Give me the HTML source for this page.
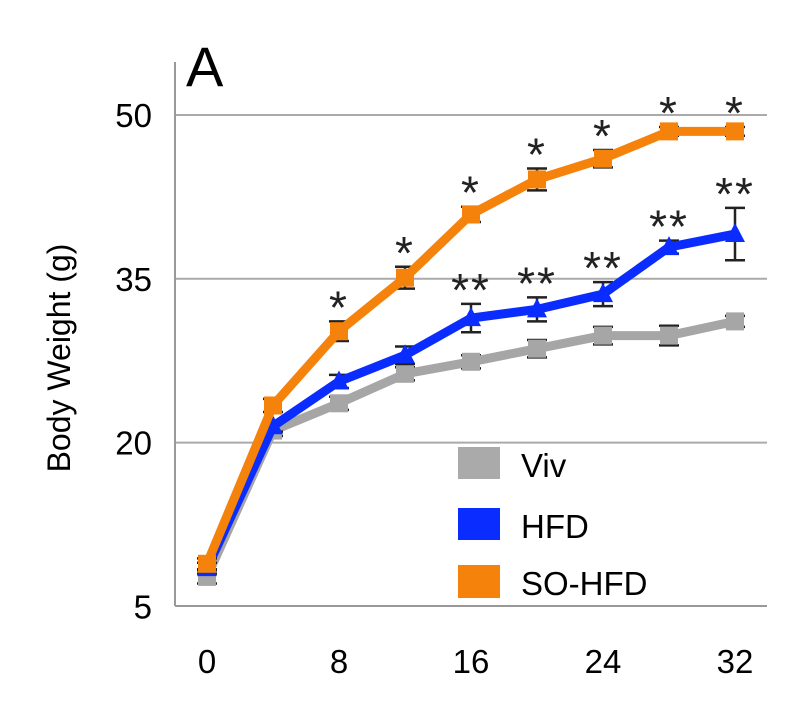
<!DOCTYPE html>
<html><head><meta charset="utf-8"><style>
body{margin:0;background:#fff;}
svg text{font-family:"Liberation Sans",Arial,sans-serif;}
</style></head><body>
<svg id="chart" width="794" height="704" xmlns="http://www.w3.org/2000/svg">
<rect width="794" height="704" fill="#fff"/>
<g id="grid"></g>
<g id="series"></g>
<g id="stars"></g>
<line x1="175" y1="62" x2="175" y2="606" stroke="#999" stroke-width="2"/>
<line x1="175" y1="606" x2="767" y2="606" stroke="#999" stroke-width="2"/>
<text x="186" y="86" font-size="56">A</text>
<text transform="translate(70,358) rotate(-90)" text-anchor="middle" font-size="32">Body Weight (g)</text>
<g>
<rect x="458" y="447" width="42" height="32" fill="#aaaaaa"/>
<text x="521" y="477" font-size="33">Viv</text>
<rect x="458" y="508" width="42" height="32" fill="#0a2cff"/>
<text x="521" y="538" font-size="33">HFD</text>
<rect x="458" y="565" width="42" height="33" fill="#f5820a"/>
<text x="521" y="595" font-size="33">SO-HFD</text>
</g>
</svg>
<script>
const weeks=[0,4,8,12,16,20,24,28,32];
const viv=[7.7,21.1,23.6,26.3,27.4,28.6,29.8,29.8,31.1];
const vivErr=[0.6,0.5,0.6,0.6,0.6,0.8,0.8,0.9,0.5];
const hfd=[8.5,21.5,25.6,28.0,31.4,32.2,33.6,37.9,39.1];
const hfdErr=[0.5,0.5,0.6,0.8,1.3,1.1,1.1,0.6,2.4];
const sohfd=[8.9,23.4,30.2,35.1,40.9,44.1,46.0,48.5,48.5];
const sohfdErr=[0.5,0.6,0.9,1.0,0.7,1.0,0.8,0.4,0.4];
const yTicks=[5,20,35,50];
const xTicks=[0,8,16,24,32];
const starsOrange=["","","*","*","*","*","*","*","*"];
const starsBlue=["","","","","**","**","**","**","**"];
const NS="http://www.w3.org/2000/svg";
const X=w=>207+w*16.5;
const Y=v=>115+(50-v)*10.92;
function mk(tag,attrs,parent){const e=document.createElementNS(NS,tag);for(const k in attrs)e.setAttribute(k,attrs[k]);parent.appendChild(e);return e;}
const grid=document.getElementById('grid');
yTicks.forEach(t=>{
  if(t>5){const l=mk('line',{x1:175,x2:767,y1:Y(t),y2:Y(t),stroke:'#aaa','stroke-width':2},grid);
  
  }
  const tx=mk('text',{x:152,y:Y(t)+12,'text-anchor':'end','font-size':33},grid);tx.textContent=t;
  
  
});
xTicks.forEach(t=>{
  const tx=mk('text',{x:X(t),y:673,'text-anchor':'middle','font-size':33},grid);tx.textContent=t;
  
  
});
const sg=document.getElementById('series');
function drawSeries(name,vals,errs,color,marker){
  const g=mk('g',{},sg);
  
  
  vals.forEach((v,i)=>{
    const x=X(weeks[i]),y1=Y(v+errs[i]),y2=Y(v-errs[i]);
    mk('path',{d:`M${x-10},${y1}H${x+10}M${x},${y1}V${y2}M${x-10},${y2}H${x+10}`,stroke:'#222','stroke-width':2.5,fill:'none'},g);
  });
  const pl=mk('polyline',{points:vals.map((v,i)=>X(weeks[i])+','+Y(v)).join(' '),fill:'none',stroke:color,'stroke-width':9,'stroke-linejoin':'round'},g);
  
  
  vals.forEach((v,i)=>{
    const x=X(weeks[i]),y=Y(v);let m;
    if(marker==='tri')m=mk('polygon',{points:`${x},${y-11} ${x+10},${y+8} ${x-10},${y+8}`,fill:color},g);
    else m=mk('rect',{x:x-9,y:y-9,width:18,height:18,fill:color},g);
    
    
  });
}
drawSeries('viv',viv,vivErr,'#a6a6a6','sq');
drawSeries('hfd',hfd,hfdErr,'#0a2cff','tri');
drawSeries('so-hfd',sohfd,sohfdErr,'#f5820a','sq');
const st=document.getElementById('stars');
function drawStars(labels,vals,errs){
  labels.forEach((s,i)=>{if(!s)return;
    const t=mk('text',{x:X(weeks[i]),y:Y(vals[i]+errs[i])+2,'text-anchor':'middle','font-size':46,fill:'#222','letter-spacing':'2'},st);
    t.textContent=s;
    
    
  });
}
drawStars(starsOrange,sohfd,sohfdErr);
drawStars(starsBlue,hfd,hfdErr);
</script>
</body></html>
